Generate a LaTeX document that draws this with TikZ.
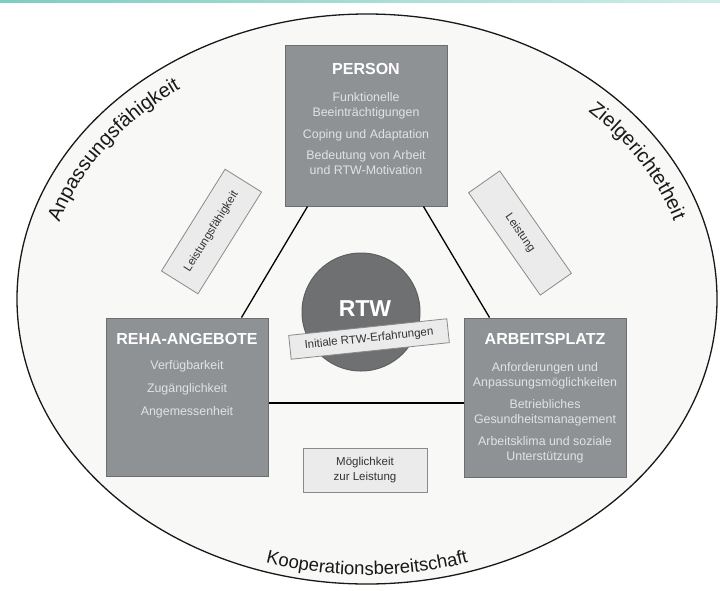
\documentclass[tikz,border=0pt]{standalone}
\usepackage{fontspec}
\setmainfont{Liberation Sans}
\usetikzlibrary{decorations.text}
\definecolor{boxgray}{HTML}{8F9294}
\definecolor{boxedge}{HTML}{6C6F71}
\definecolor{rtwgray}{HTML}{6E7072}
\definecolor{lblfill}{HTML}{EBEBEB}
\definecolor{lbledge}{HTML}{8A8A8A}
\definecolor{itemtxt}{HTML}{E2E2E2}
\definecolor{bgfill}{HTML}{F8F8F6}
\definecolor{tealA}{HTML}{7ECDC2}
\definecolor{tealB}{HTML}{CFEDE8}
\begin{document}
\begin{tikzpicture}[x=1pt,y=-1pt,
  factorbox/.style={draw=boxedge, line width=1pt, fill=boxgray, minimum width=162pt, minimum height=160pt, inner sep=0pt},
  titletext/.style={text=white, font=\bfseries\fontsize{16}{18}\selectfont, anchor=base, inner sep=0pt},
  itemtext/.style={text=itemtxt, font=\fontsize{12.4}{15}\selectfont, align=center, anchor=north, inner sep=0pt},
  lblbox/.style={draw=lbledge, fill=lblfill, line width=0.8pt, text=black!80, font=\fontsize{11.5}{15}\selectfont, align=center, inner sep=0pt},
  link/.style={line width=1.3pt, black},
  arctext/.style={decorate, decoration={text along path, text align=center, text color=black!90}}
]
\useasboundingbox (0,0) rectangle (720,590);
\fill[white] (0,0) rectangle (720,590);
\shade[left color=tealA, right color=tealB] (0,0) rectangle (720,2.5);
\draw[fill=bgfill, draw=black!90, line width=1.3pt] (367,299) ellipse [x radius=350, y radius=285];

% curved texts
\path[arctext, decoration={text={|\fontsize{20}{20}\selectfont|Anpassungsfähigkeit}}]
  (367,299) ++(-175:322 and 258) arc[start angle=-175, end angle=-115, x radius=322, y radius=258];
\path[arctext, decoration={text={|\fontsize{20}{20}\selectfont|Zielgerichtetheit}}]
  (367,299) ++(-61:322 and 258) arc[start angle=-61, end angle=-1, x radius=322, y radius=258];
\path[arctext, decoration={text={|\fontsize{18.5}{19}\selectfont|Kooperationsbereitschaft}}]
  (367,299) ++(120:340 and 276) arc[start angle=120, end angle=60, x radius=340, y radius=276];

% factor boxes
\node[factorbox, minimum height=161pt] (person) at (366,125.5) {};
\node[factorbox, minimum height=158pt] (reha) at (187,397) {};
\node[factorbox, minimum height=159pt] (arbeit) at (545,397.5) {};

% connectors
\draw[link] ([xshift=23pt]person.south west) -- ([xshift=136pt]reha.north west);
\draw[link] ([xshift=139pt]person.south west) -- ([xshift=26pt]arbeit.north west);
\draw[link] ([yshift=-6pt]reha.east) -- ([yshift=-5.5pt]arbeit.west);

% box texts
\node[titletext] (persontitle) at (366,74) {PERSON};
\node[itemtext] (personitems) at (366,92) {Funktionelle\\Beeinträchtigungen\\[7pt]Coping und Adaptation\\[6.5pt]Bedeutung von Arbeit\\und RTW-Motivation};
\node[titletext] (rehatitle) at (187,344) {REHA-ANGEBOTE};
\node[itemtext] (rehaitems) at (187,360.5) {Verfügbarkeit\\[7.8pt]Zugänglichkeit\\[7.8pt]Angemessenheit};
\node[titletext] (arbeittitle) at (545,344) {ARBEITSPLATZ};
\node[itemtext] (arbeititems) at (545,362.5) {Anforderungen und\\Anpassungsmöglichkeiten\\[7pt]Betriebliches\\Gesundheitsmanagement\\[7pt]Arbeitsklima und soziale\\Unterstützung};

% RTW
\node[circle, fill=rtwgray, draw=rtwgray!85!black, line width=1pt, minimum size=118pt, inner sep=0pt] (rtw) at (361,312) {};
\node[text=white, font=\bfseries\fontsize{23}{24}\selectfont, anchor=base, inner sep=0pt] (rtwtext) at (365,316) {RTW};
\node[lblbox, minimum width=159pt, minimum height=24pt, rotate=6] (initial) at (369,339) {Initiale RTW-Erfahrungen};

% labels
\node[lblbox, minimum width=120pt, minimum height=43pt, rotate=58] (lfaehig) at (211.5,231.5) {Leistungsfähigkeit};
\node[lblbox, minimum width=125pt, minimum height=38pt, rotate=-55] (leistung) at (520,233) {Leistung};
\node[lblbox, minimum width=124pt, minimum height=44pt] (moeglich) at (365,470) {Möglichkeit\\zur Leistung};
\end{tikzpicture}
\end{document}
